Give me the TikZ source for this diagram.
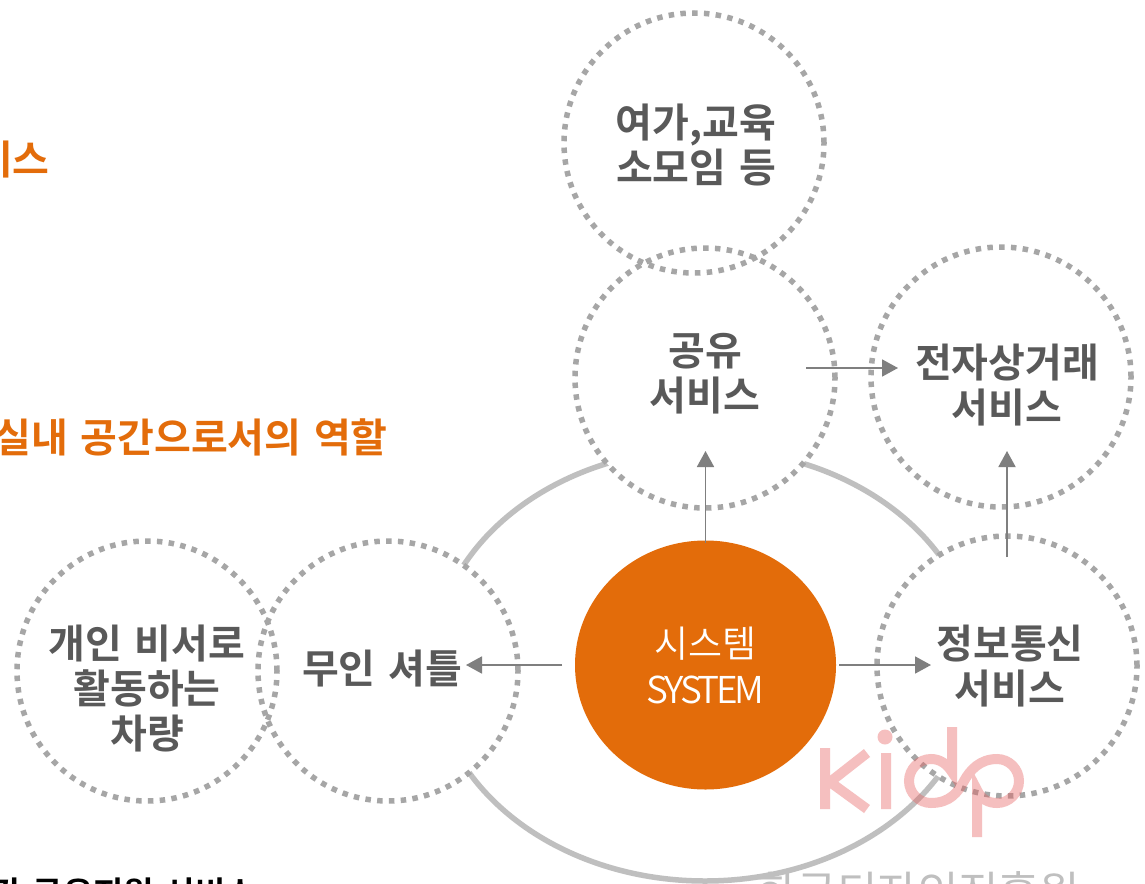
\documentclass[tikz,border=0pt]{standalone}
\usepackage{fontspec}
\setmainfont{Noto Sans CJK KR}
\newfontfamily\krb[WordSpace=1.4]{Noto Sans CJK KR Bold}
\newfontfamily\krl{Noto Sans CJK KR DemiLight}
\newfontfamily\krs[LetterSpace=-9]{Noto Sans CJK KR DemiLight}
\usetikzlibrary{arrows.meta,shapes.geometric}
\definecolor{orng}{HTML}{E36C0A}
\definecolor{txtg}{HTML}{595959}
\definecolor{dotg}{HTML}{A6A6A6}
\definecolor{arrg}{HTML}{7F7F7F}
\definecolor{ringg}{HTML}{BFBFBF}
\definecolor{kidp}{RGB}{232,97,97}
\tikzset{
  x=1pt,y=-1pt,
  bubble/.style={circle,minimum size=260pt,inner sep=0pt,outer sep=0pt,fill=white,align=center,text=txtg,
    font={\krb\fontsize{40}{45}\selectfont}},
  ringline/.style={circle,minimum size=260pt,inner sep=0pt,outer sep=0pt,draw=dotg,line width=5.5pt,dash pattern=on 5.5pt off 6.3pt},
  arr/.style={draw=arrg,line width=1.8pt,-{Triangle[length=16pt,width=17pt]}},
  hdr/.style={anchor=west,inner sep=0pt,text=orng,font={\krb\fontsize{40}{45}\selectfont}},
  wm/.style={draw=kidp,draw opacity=.4,line width=10pt},
}
\begin{document}
\begin{tikzpicture}
\useasboundingbox (0,0) rectangle (1145,883);
\clip (0,0) rectangle (1145,883);
\fill[white] (0,0) rectangle (1145,883);
% large grey ring
\draw[ringg,line width=5.5pt] (705,665) ellipse [x radius=272,y radius=216];
% bubbles
\node[bubble] (yeoga) at (694,143) {};
\node[bubble] (gongyu) at (705,378) {};
\node[bubble] (jeonja) at (1001,377) {};
\node[bubble] (jeongbo) at (1007,666) {};
\node[bubble] (musin) at (388,671) {};
\node[bubble] (gaein) at (147,671) {};
\foreach \n in {yeoga,gongyu,jeonja,jeongbo,musin,gaein}{\node[ringline] at (\n.center) {};}
\node[bubble,fill=none] at (696,145) {여가,교육\\소모임 등};
\node[bubble,fill=none] at (705,374) {공유\\서비스};
\node[bubble,fill=none] at (1007,385) {전자상거래\\서비스};
\node[bubble,fill=none] at (1010,666) {정보통신\\서비스};
\node[bubble,fill=none] at (382,669) {무인 셔틀};
\node[bubble,fill=none] at (147,688) {개인 비서로\\활동하는\\차량};
% system
\node[ellipse,minimum width=261pt,minimum height=249pt,inner sep=0pt,outer sep=0pt,fill=orng,text=white,align=center,
  font={\fontsize{37}{46}\selectfont}] (sys) at (705.5,665)
  {{\krl 시스템}\\{\krs SYSTEM}};
% arrows
\draw[arr,shorten <=-2pt,shorten >=-57pt] (sys.north) -- (sys.north |- gongyu.south);
\draw[arr,shorten <=13pt,shorten >=-52pt] (sys.west) -- (sys.west -| musin.east);
\draw[arr,shorten <=3pt,shorten >=-54pt] (sys.east) -- (sys.east -| jeongbo.west);
\draw[arr,shorten <=-29pt,shorten >=-27pt] ([yshift=10pt]gongyu.east) -- ([yshift=10pt]gongyu.east -| jeonja.west);
\draw[arr,shorten <=-21pt,shorten >=-56pt] (jeongbo.north) -- (jeongbo.north |- jeonja.south);
% cut-off left texts
\node[hdr,anchor=east] at (50,160) {서비스};
\node[hdr,anchor=east] at (388,437) {실내 공간으로서의 역할};
\node[anchor=east,inner sep=0pt,text=black,font={\krb\fontsize{33}{38}\selectfont}] at (256,893) {간 공유지원 서비스};
% watermark
\path[wm] (867,753) -- (830,782) -- (867,809)
  (825,748) -- (825,809)
  (886,753) -- (886,809)
  (952,727) -- (952,772) .. controls (947,764) and (940,759) .. (931,759)
  .. controls (919,759) and (909,769) .. (909,781)
  .. controls (909,793) and (919,803) .. (931,803)
  .. controls (950,803) and (958,792) .. (964,781)
  .. controls (970,770) and (980,759) .. (997,759)
  .. controls (1009,759) and (1019,769) .. (1019,781)
  .. controls (1019,793) and (1009,803) .. (997,803)
  .. controls (988,803) and (981,799) .. (977,790) -- (977,837);
\fill[kidp,opacity=.4] (885,737) circle [radius=7.5];
\node[anchor=center,inner sep=0pt,text=ringg,font={\fontsize{44}{48}\selectfont}] at (918,892) {한국디자인진흥원};
\end{tikzpicture}
\end{document}
